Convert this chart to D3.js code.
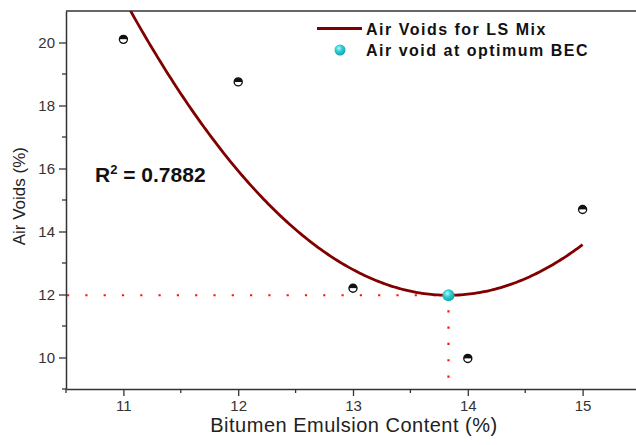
<!DOCTYPE html>
<html>
<head>
<meta charset="utf-8">
<script src="https://cdn.jsdelivr.net/npm/d3@7"></script>
<style>
  html, body { margin: 0; padding: 0; background: #fff; }
  svg { display: block; font-family: "Liberation Sans", Arial, sans-serif; }
</style>
</head>
<body>
<svg id="chart" width="636" height="445"></svg>
<script>
// Measured air voids at each bitumen emulsion content
const contents = [11, 12, 13, 14, 15];
const airVoids = [20.1, 18.75, 12.2, 9.97, 14.7];

const xTickValues = [11, 12, 13, 14, 15];
const xMinorTicks = [10.5, 11.5, 12.5, 13.5, 14.5];
const yTickValues = [10, 12, 14, 16, 18, 20];
const yMinorTicks = [9, 11, 13, 15, 17, 19];

const r2Text = "0.7882";
const legendLabels = ["Air Voids for LS Mix", "Air void at optimum BEC"];

const svg = d3.select("#chart");
const plot = { left: 66, top: 11, right: 640, bottom: 389 };

const x = d3.scaleLinear().domain([10.5, 15.5]).range([plot.left, plot.right]);
const y = d3.scaleLinear().domain([9, 21]).range([plot.bottom, plot.top]);

// Second-order least-squares fit of the measured points
function quadFit(xv, yv) {
  const n = xv.length;
  let s = [0, 0, 0, 0, 0], t = [0, 0, 0];
  for (let i = 0; i < n; i++) {
    for (let k = 0; k <= 4; k++) s[k] += Math.pow(xv[i], k);
    for (let k = 0; k <= 2; k++) t[k] += yv[i] * Math.pow(xv[i], k);
  }
  const A = [[s[0], s[1], s[2], t[0]], [s[1], s[2], s[3], t[1]], [s[2], s[3], s[4], t[2]]];
  for (let i = 0; i < 3; i++) {
    for (let j = i + 1; j < 3; j++) {
      const f = A[j][i] / A[i][i];
      for (let k = i; k < 4; k++) A[j][k] -= f * A[i][k];
    }
  }
  const c = [0, 0, 0];
  for (let i = 2; i >= 0; i--) {
    let v = A[i][3];
    for (let k = i + 1; k < 3; k++) v -= A[i][k] * c[k];
    c[i] = v / A[i][i];
  }
  return c; // a0 + a1 x + a2 x^2
}
const coef = quadFit(contents, airVoids);
const fitAt = v => coef[0] + coef[1] * v + coef[2] * v * v;
const optX = -coef[1] / (2 * coef[2]);
const optY = fitAt(optX);

const defs = svg.append("defs");
defs.append("clipPath").attr("id", "plotClip")
  .append("rect")
  .attr("x", plot.left).attr("y", plot.top)
  .attr("width", plot.right - plot.left).attr("height", plot.bottom - plot.top);
const grad = defs.append("radialGradient").attr("id", "cyanBall")
  .attr("cx", "40%").attr("cy", "35%").attr("r", "65%");
grad.append("stop").attr("offset", "0%").attr("stop-color", "#b8f6f6");
grad.append("stop").attr("offset", "45%").attr("stop-color", "#30cfd2");
grad.append("stop").attr("offset", "100%").attr("stop-color", "#0fa5ad");

// Frame: top border
svg.append("line")
  .attr("x1", plot.left).attr("x2", plot.right)
  .attr("y1", plot.top).attr("y2", plot.top)
  .attr("stroke", "#333").attr("stroke-width", 1.5);

// Axes
const axisColor = "#333";
const gx = svg.append("g").attr("transform", `translate(0,${plot.bottom})`);
gx.call(d3.axisBottom(x).tickValues(xTickValues).tickSize(7).tickSizeOuter(0).tickFormat(d3.format("d")));
gx.selectAll(".minor").data(xMinorTicks).enter().append("line")
  .attr("class", "minor")
  .attr("x1", d => x(d)).attr("x2", d => x(d))
  .attr("y1", 0).attr("y2", 4);

const gy = svg.append("g").attr("transform", `translate(${plot.left},0)`);
gy.call(d3.axisLeft(y).tickValues(yTickValues).tickSize(7).tickSizeOuter(0).tickFormat(d3.format("d")));
gy.selectAll(".minor").data(yMinorTicks).enter().append("line")
  .attr("class", "minor")
  .attr("x1", 0).attr("x2", -4)
  .attr("y1", d => y(d)).attr("y2", d => y(d));

[gx, gy].forEach(g => {
  g.select(".domain").attr("stroke", axisColor).attr("stroke-width", 1.5);
  g.selectAll("line").attr("stroke", axisColor).attr("stroke-width", 1.3);
  g.selectAll("text").attr("fill", "#333").style("font-size", "15px")
    .style("font-family", "'Liberation Sans', Arial, sans-serif");
});
gx.selectAll(".tick text").attr("y", 21.5).attr("dy", 0);
gy.selectAll(".tick text").attr("x", -11).attr("dy", "0.35em");

// Axis titles
svg.append("text")
  .attr("x", (x(11) + x(15)) / 2 + 1).attr("y", 432)
  .attr("text-anchor", "middle")
  .attr("fill", "#222")
  .style("font-size", "20px")
  .style("letter-spacing", "0.5px")
  .text("Bitumen Emulsion Content (%)");
svg.append("text")
  .attr("transform", `translate(25,${y(15.12)}) rotate(-90)`)
  .attr("text-anchor", "middle")
  .attr("fill", "#222")
  .style("font-size", "17px")
  .text("Air Voids (%)");

// Guide lines to the optimum
const guides = svg.append("g").attr("clip-path", "url(#plotClip)")
  .attr("stroke", "#ff1010").attr("stroke-width", 2.2).attr("fill", "none");
guides.append("line")
  .attr("stroke-dasharray", "2.2,16.1")
  .attr("x1", x(10.5) + 1).attr("x2", x(optX))
  .attr("y1", y(optY)).attr("y2", y(optY));
guides.append("line")
  .attr("stroke-dasharray", "2.2,14.1")
  .attr("x1", x(optX)).attr("x2", x(optX))
  .attr("y1", y(optY) + 15).attr("y2", y(9));

// Fitted curve
const curveData = d3.range(0, 201).map(i => {
  const v = 11 + (15 - 11) * i / 200;
  return [v, fitAt(v)];
});
svg.append("g").attr("clip-path", "url(#plotClip)")
  .append("path")
  .datum(curveData)
  .attr("d", d3.line().x(d => x(d[0])).y(d => y(d[1])))
  .attr("fill", "none")
  .attr("stroke", "#800000")
  .attr("stroke-width", 2.8);

// Measured points: half-filled circles
const pts = svg.append("g");
const r = 4;
const halfArc = d3.arc().innerRadius(0).outerRadius(r)
  .startAngle(-Math.PI / 2).endAngle(Math.PI / 2);
contents.forEach((c, i) => {
  const g = pts.append("g").attr("transform", `translate(${x(c)},${y(airVoids[i])})`);
  g.append("circle").attr("r", r).attr("fill", "#fff").attr("stroke", "#111").attr("stroke-width", 1.4);
  g.append("path").attr("d", halfArc).attr("fill", "#111");
  g.append("line").attr("x1", -r + 1).attr("x2", r - 1).attr("y1", 0.8).attr("y2", 0.8)
    .attr("stroke", "#fff").attr("stroke-width", 1);
});

// Optimum point
svg.append("circle")
  .attr("cx", x(optX)).attr("cy", y(optY)).attr("r", 6)
  .attr("fill", "url(#cyanBall)");

// R-squared annotation
const r2 = svg.append("text")
  .attr("x", 95).attr("y", 182)
  .attr("fill", "#111")
  .style("font-size", "21px").style("font-weight", "bold");
r2.append("tspan").text("R");
r2.append("tspan").attr("dy", -8).style("font-size", "13px").text("2");
r2.append("tspan").attr("dy", 8).text(" = " + r2Text);

// Legend
const legend = svg.append("g");
legend.append("line")
  .attr("x1", 317).attr("x2", 362).attr("y1", 28.5).attr("y2", 28.5)
  .attr("stroke", "#800000").attr("stroke-width", 3);
legend.append("circle")
  .attr("cx", 340).attr("cy", 50).attr("r", 5.5)
  .attr("fill", "url(#cyanBall)");
legend.selectAll("text.lbl").data(legendLabels).enter().append("text")
  .attr("class", "lbl")
  .attr("x", 366).attr("y", (d, i) => 34.5 + i * 21)
  .attr("fill", "#111")
  .style("font-size", "16px").style("font-weight", "bold")
  .style("letter-spacing", "1.5px")
  .text(d => d);
</script>
</body>
</html>
